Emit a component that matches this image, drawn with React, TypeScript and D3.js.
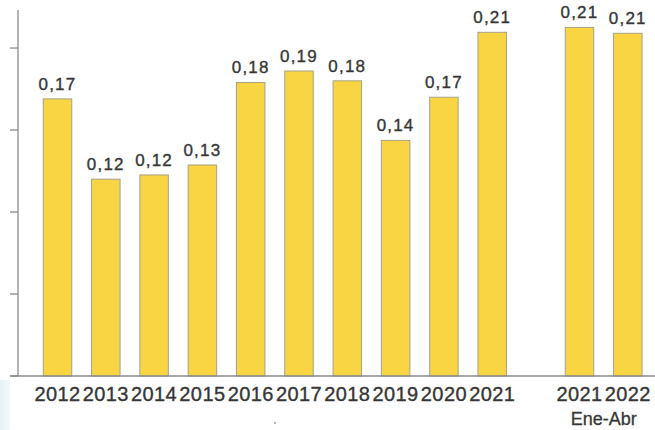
import React from "react";
import * as d3 from "d3";

const categories = ["2012", "2013", "2014", "2015", "2016", "2017", "2018", "2019", "2020", "2021", "2021 Ene-Abr", "2022 Ene-Abr"];
const yearLabels = ["2012", "2013", "2014", "2015", "2016", "2017", "2018", "2019", "2020", "2021", "2021", "2022"];
const values = [0.169, 0.120, 0.1226, 0.1287, 0.179, 0.186, 0.180, 0.1437, 0.170, 0.2096, 0.2126, 0.209];
const valueLabels = ["0,17", "0,12", "0,12", "0,13", "0,18", "0,19", "0,18", "0,14", "0,17", "0,21", "0,21", "0,21"];
const yTicks = [0, 0.05, 0.1, 0.15, 0.2];
const periodLabel = "Ene-Abr";

const W = 655;
const H = 430;
const baseY = 376;
const topY = 10;
const axisX = 18;
const step = 48.3;
const gapPx = 39;
const splitIndex = 10;

export default function App() {
  const y = d3.scaleLinear().domain([0, 0.2232]).range([baseY, topY]);
  const x = d3
    .scaleBand<string>()
    .domain(categories)
    .range([33.35, 33.35 + categories.length * step])
    .paddingInner(0.41)
    .paddingOuter(0.205);
  const bw = x.bandwidth();
  const bx = (c: string, i: number) => (x(c) as number) + (i >= splitIndex ? gapPx : 0);
  const font = "'Liberation Sans', Arial, sans-serif";
  const textColor = "#363636";
  const lastX = bx(categories[categories.length - 1], categories.length - 1);
  const prevX = bx(categories[categories.length - 2], categories.length - 2);

  return (
    <div style={{ position: "fixed", left: 0, top: 0, width: W, height: H }}>
      <svg width={W} height={H} style={{ display: "block" }}>
        <defs>
          <linearGradient id="bgl" x1="0" y1="0" x2="1" y2="0">
            <stop offset="0" stopColor="#e4f1f4" />
            <stop offset="1" stopColor="#f4f9fa" />
          </linearGradient>
        </defs>
        <rect x={0} y={0} width={W} height={H} fill="#ffffff" />
        <rect x={0} y={380} width={10} height={50} fill="url(#bgl)" />
        {/* y axis */}
        <line x1={axisX} x2={axisX} y1={topY} y2={baseY} stroke="#8a8a8a" strokeWidth={1.3} />
        {yTicks.map((t) => (
          <line key={t} x1={axisX - 8} x2={axisX} y1={y(t)} y2={y(t)} stroke="#8a8a8a" strokeWidth={1.3} />
        ))}
        {/* bars */}
        {categories.map((c, i) => (
          <rect
            key={c}
            x={bx(c, i)}
            y={y(values[i])}
            width={bw}
            height={baseY - y(values[i])}
            fill="#f9d544"
            stroke="#a5a284"
            strokeWidth={1}
          />
        ))}
        {/* baseline */}
        <line x1={10} x2={W} y1={baseY} y2={baseY} stroke="#8a8a8a" strokeWidth={1.3} />
        {/* value labels */}
        {categories.map((c, i) => (
          <text
            key={"v" + c}
            x={bx(c, i) + bw / 2}
            y={y(values[i]) - 9}
            textAnchor="middle"
            fontFamily={font}
            fontSize={17}
            letterSpacing={1.2}
            fill={textColor}
            stroke={textColor}
            strokeWidth={0.35}
          >
            {valueLabels[i]}
          </text>
        ))}
        {/* year labels */}
        {categories.map((c, i) => (
          <text
            key={"x" + c}
            x={bx(c, i) + bw / 2}
            y={400.5}
            textAnchor="middle"
            fontFamily={font}
            fontSize={20}
            letterSpacing={0.4}
            fill={textColor}
            stroke={textColor}
            strokeWidth={0.35}
          >
            {yearLabels[i]}
          </text>
        ))}
        <text
          x={(prevX + lastX + bw) / 2}
          y={425}
          textAnchor="middle"
          fontFamily={font}
          fontSize={18}
          fill={textColor}
          stroke={textColor}
          strokeWidth={0.3}
        >
          {periodLabel}
        </text>
        <circle cx={275} cy={423} r={1} fill="#9a9a9a" />
      </svg>
    </div>
  );
}
